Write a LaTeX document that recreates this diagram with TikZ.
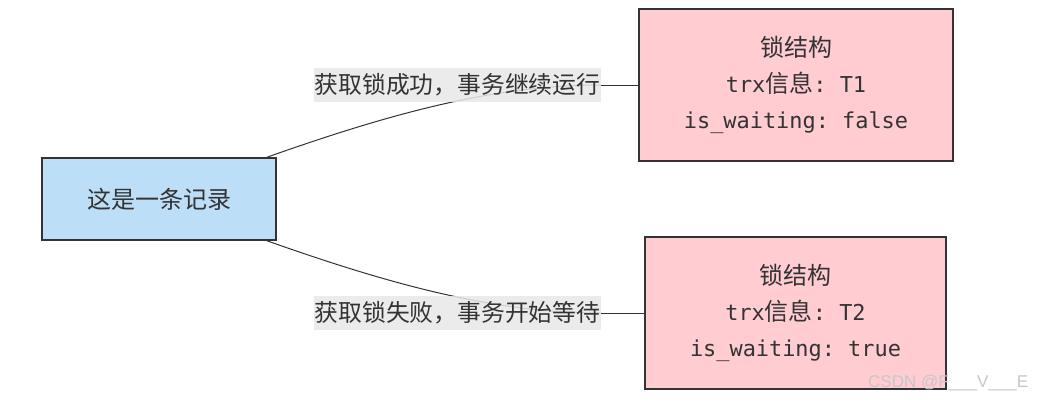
\documentclass[tikz,border=0pt]{standalone}
\usepackage{fontspec}
\setmainfont{Liberation Sans}
\setmonofont{DejaVu Sans Mono}
\newfontfamily\cjk{Noto Sans CJK SC}
\definecolor{txt}{HTML}{333333}
\definecolor{blueFill}{HTML}{BDDEF7}
\definecolor{pinkFill}{HTML}{FFCCD1}
\definecolor{lblFill}{HTML}{E8E8E8}
\newcommand{\cjkbig}{\cjk\fontsize{24}{36}\selectfont}
\tikzset{
  box/.style={draw=txt, line width=1.3pt, rectangle, inner sep=0pt, text=txt, align=center},
  recbox/.style={box, fill=blueFill, minimum width=234pt, minimum height=82pt, font=\cjk\fontsize{24}{28}\selectfont},
  lockbox/.style={box, fill=pinkFill, minimum height=152pt, font=\fontsize{21.9}{36}\selectfont},
  lbl/.style={rectangle, fill=lblFill, fill opacity=0.85, text opacity=1, text=txt, inner sep=0pt, minimum width=287pt, minimum height=34pt, font=\cjk\fontsize{23.8}{28}\selectfont},
  conn/.style={draw=txt, line width=1pt},
}
\begin{document}
\begin{tikzpicture}[x=1pt,y=1pt]
\useasboundingbox (0,0) rectangle (1037,-402);
\fill[white] (0,0) rectangle (1037,-402);
\node[recbox] (rec) at (159,-199) {这是一条记录};
\node[lockbox, minimum width=314pt] (lockA) at (796,-85) {{\cjkbig 锁结构}\\{\ttfamily trx}{\cjkbig 信息}{\ttfamily: T1}\\{\ttfamily is\_waiting: false}};
\node[lockbox, minimum width=301pt] (lockB) at (795.5,-313) {{\cjkbig 锁结构}\\{\ttfamily trx}{\cjkbig 信息}{\ttfamily: T2}\\{\ttfamily is\_waiting: true}};
\coordinate (ea) at (601,-85);
\coordinate (eb) at (601,-313);
\draw[conn] ([xshift=-10pt]rec.north east) .. controls (400,-110) and (500,-85) .. (ea);
\draw[conn] ([xshift=-10pt]rec.south east) .. controls (400,-288) and (500,-313) .. (eb);
\node[lbl] (la) at (457.5,-85) {获取锁成功，事务继续运行};
\node[lbl] (lb) at (457.5,-313) {获取锁失败，事务开始等待};
\draw[conn] (la.east) -- (lockA.west);
\draw[conn] (lb.east) -- (lockB.west);
\node[anchor=west, text=black!22, font=\fontsize{17}{20}\selectfont, inner sep=0pt] (wm) at (868,-383) {CSDN @F\_\_\_V\_\_\_E};
\end{tikzpicture}
\end{document}
